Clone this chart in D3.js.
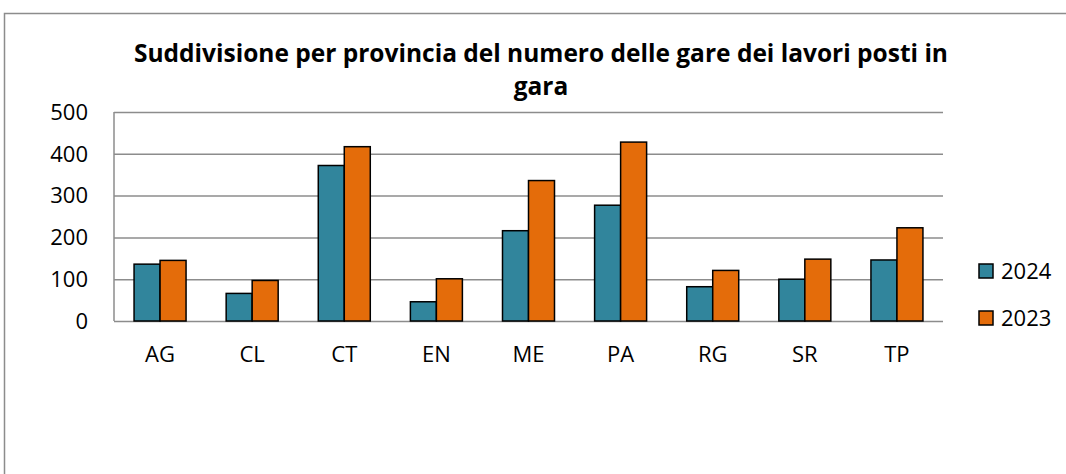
<!DOCTYPE html>
<meta charset="utf-8">
<head>
<style>
body { margin: 0; background: #fff; }
.grid line { stroke: #8c8c8c; stroke-width: 1.5px; }
.grid path { display: none; }
text { font-family: "Open Sans", sans-serif; fill: #000; }
</style>
</head>
<body>
<script src="https://d3js.org/d3.v7.min.js"></script>
<script>

// data
var provinces = ["AG", "CL", "CT", "EN", "ME", "PA", "RG", "SR", "TP"];
var years = ["2024", "2023"];
var values2024 = [136, 66, 372, 46, 216, 277, 82, 100, 146];
var values2023 = [145, 97, 417, 101, 336, 428, 121, 148, 223];
var yTicks = [0, 100, 200, 300, 400, 500];
var colors = ["#31859c", "#e46c0a"];
var titleLines = ["Suddivisione per provincia del numero delle gare dei lavori posti in", "gara"];

var W = 1066, H = 474;
var margin = {top: 112, right: 123, bottom: 153, left: 114},
    width = W - margin.left - margin.right,
    height = H - margin.top - margin.bottom;

var svg = d3.select("body").append("svg")
    .attr("width", W)
    .attr("height", H);

// chart border
svg.append("rect")
    .attr("x", 4.5).attr("y", 13.5)
    .attr("width", W + 10).attr("height", H + 10)
    .attr("fill", "none")
    .attr("stroke", "#8c8c8c")
    .attr("stroke-width", 1.5);

// title
svg.append("g").selectAll("text")
    .data(titleLines)
  .enter().append("text")
    .attr("x", 541)
    .attr("y", function(d, i) { return 62 + i * 33; })
    .attr("text-anchor", "middle")
    .attr("font-size", "24.5px")
    .attr("font-weight", "bold")
    .text(function(d) { return d; });

var g = svg.append("g")
    .attr("transform", "translate(" + margin.left + "," + margin.top + ")");

var x0 = d3.scaleBand().domain(provinces).range([0, width]);
var x1 = d3.scaleBand().domain(years).range([0, 52]);
var y = d3.scaleLinear().domain([0, 500]).range([height, 0]);

// gridlines
g.append("g")
    .attr("class", "grid")
    .call(d3.axisLeft(y).tickValues(yTicks).tickSize(-width).tickFormat(""));

// vertical axis line
g.append("line")
    .attr("x1", 0).attr("x2", 0)
    .attr("y1", 0).attr("y2", height)
    .attr("stroke", "#8c8c8c").attr("stroke-width", 1.5);

// y labels
g.append("g").selectAll("text")
    .data(yTicks)
  .enter().append("text")
    .attr("x", -26)
    .attr("y", function(d) { return y(d); })
    .attr("dy", "0.35em")
    .attr("text-anchor", "end")
    .attr("font-size", "22px")
    .text(function(d) { return d; });

// x labels
g.append("g").selectAll("text")
    .data(provinces)
  .enter().append("text")
    .attr("x", function(d) { return x0(d) + x0.bandwidth() / 2; })
    .attr("y", height + 41)
    .attr("text-anchor", "middle")
    .attr("font-size", "22px")
    .text(function(d) { return d; });

// bars
var series = [values2024, values2023];
years.forEach(function(yr, si) {
  g.append("g").selectAll("rect")
      .data(provinces)
    .enter().append("rect")
      .attr("x", function(d) { return x0(d) + x0.bandwidth() / 2 - 26 + x1(yr); })
      .attr("y", function(d, i) { return y(series[si][i]); })
      .attr("width", x1.bandwidth())
      .attr("height", function(d, i) { return height - y(series[si][i]); })
      .attr("fill", colors[si])
      .attr("stroke", "#000")
      .attr("stroke-width", 1.5);
});

// legend
var legend = svg.append("g").selectAll("g")
    .data(years)
  .enter().append("g")
    .attr("transform", function(d, i) { return "translate(979," + (264 + i * 47) + ")"; });

legend.append("rect")
    .attr("width", 14).attr("height", 14)
    .attr("fill", function(d, i) { return colors[i]; })
    .attr("stroke", "#000")
    .attr("stroke-width", 1.5);

legend.append("text")
    .attr("x", 22)
    .attr("y", 7)
    .attr("dy", "0.35em")
    .attr("font-size", "22px")
    .text(function(d) { return d; });

</script>
</body>
